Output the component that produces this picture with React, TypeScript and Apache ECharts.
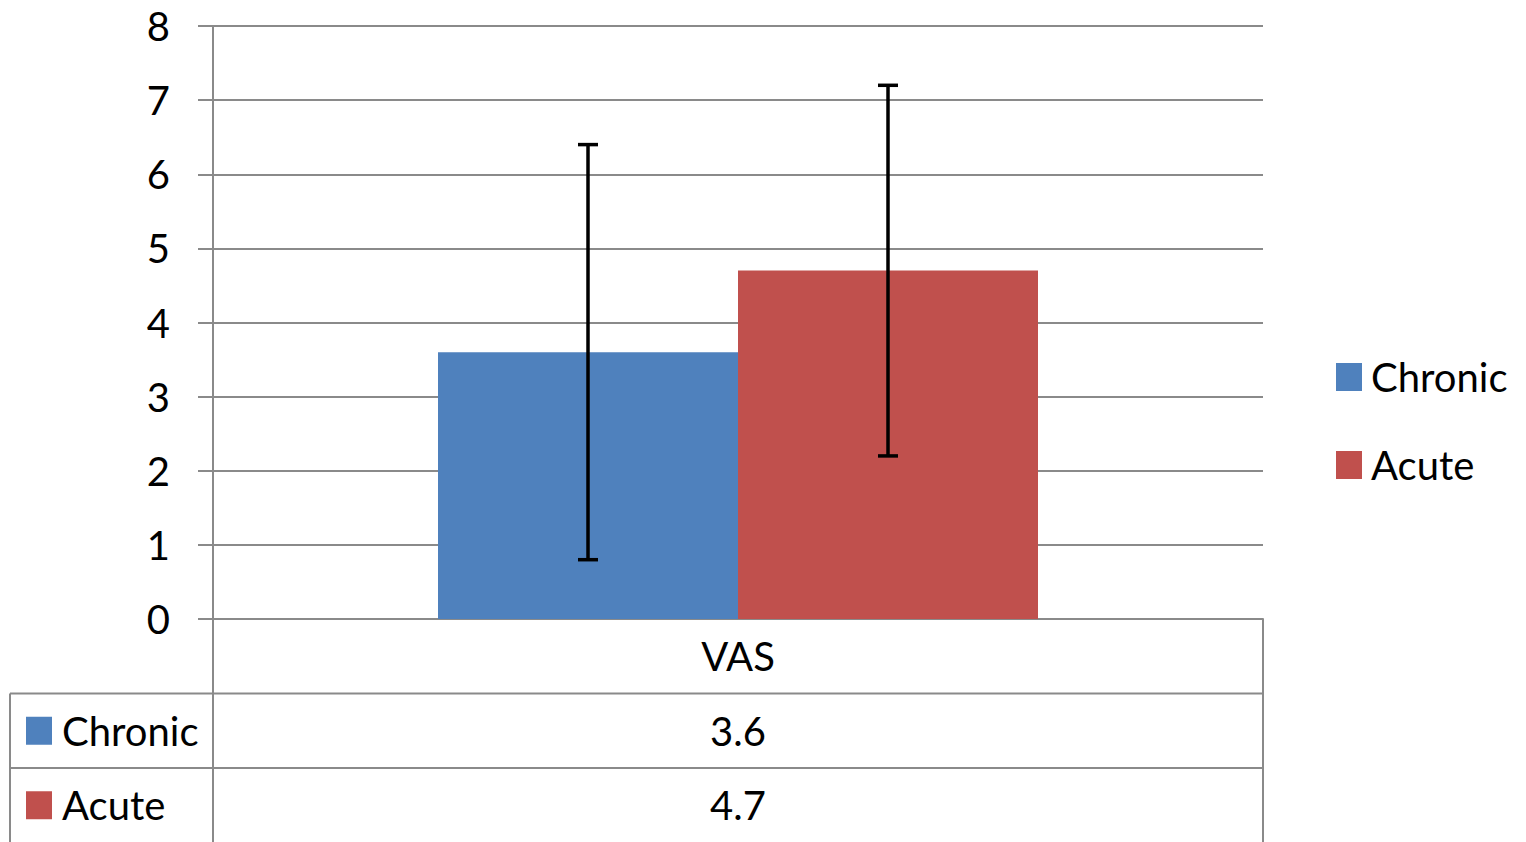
import React, { useEffect, useRef } from "react";
import * as echarts from "echarts";

const categories = ["VAS"];
const seriesNames = ["Chronic", "Acute"];
const chronicMean = [3.6];
const acuteMean = [4.7];
const chronicSD = [2.8];
const acuteSD = [2.5];
const yTicks = [0, 1, 2, 3, 4, 5, 6, 7, 8];

const COLORS = ["#4F81BD", "#C0504D"];
const GRID_COLOR = "#8a8a8a";
const FONT = "Lato";
const FS = 40;

const W = 1526;
const H = 842;
const GRID = { left: 213, right: 263, top: 26, bottom: 223 };
const BAR_W = 300;

function errorSeries(name: string, means: number[], sds: number[], offset: number) {
  return {
    type: "custom",
    name,
    silent: true,
    z: 10,
    data: categories.map((_, i) => [i, means[i] - sds[i], means[i] + sds[i]]),
    renderItem: (params: any, api: any) => {
      const x = api.value(0);
      const lo = api.coord([x, api.value(1)]);
      const hi = api.coord([x, api.value(2)]);
      const cx = lo[0] + offset;
      const cap = 10;
      const st = { stroke: "#000", lineWidth: 3.5 };
      return {
        type: "group",
        children: [
          { type: "line", shape: { x1: cx, y1: hi[1], x2: cx, y2: lo[1] }, style: st },
          { type: "line", shape: { x1: cx - cap, y1: hi[1], x2: cx + cap, y2: hi[1] }, style: st },
          { type: "line", shape: { x1: cx - cap, y1: lo[1], x2: cx + cap, y2: lo[1] }, style: st },
        ],
      };
    },
  };
}

export default function App() {
  const ref = useRef<HTMLDivElement>(null);
  useEffect(() => {
    document.body.style.margin = "0";
    const chart = echarts.init(ref.current!, null, { renderer: "svg" });

    const plotL = GRID.left;
    const plotR = W - GRID.right;
    const axisY = H - GRID.bottom;
    const rowH = 74.5;
    const r1 = axisY + rowH;
    const r2 = r1 + rowH;
    const tableLeft = 10;
    const lineStyle = { stroke: GRID_COLOR, lineWidth: 2 };
    const centerX = (plotL + plotR) / 2;
    const means = [chronicMean, acuteMean];

    const graphics: any[] = [
      { type: "line", shape: { x1: plotL, y1: axisY, x2: plotL, y2: H }, style: lineStyle },
      { type: "line", shape: { x1: plotR, y1: axisY, x2: plotR, y2: H }, style: lineStyle },
      { type: "line", shape: { x1: tableLeft, y1: r1, x2: plotR, y2: r1 }, style: lineStyle },
      { type: "line", shape: { x1: tableLeft, y1: r2, x2: plotR, y2: r2 }, style: lineStyle },
      { type: "line", shape: { x1: tableLeft, y1: r1, x2: tableLeft, y2: H }, style: lineStyle },
      {
        type: "text",
        x: centerX,
        y: axisY + rowH / 2,
        style: { text: categories[0], font: `${FS}px ${FONT}`, fill: "#000", textAlign: "center", textVerticalAlign: "middle" },
      },
    ];
    seriesNames.forEach((n, k) => {
      const top = r1 + k * rowH;
      graphics.push({ type: "rect", shape: { x: 26, y: top + rowH / 2 - 14, width: 26, height: 28 }, style: { fill: COLORS[k] } });
      graphics.push({
        type: "text",
        x: 62,
        y: top + rowH / 2,
        style: { text: n, font: `${FS}px ${FONT}`, fill: "#000", textAlign: "left", textVerticalAlign: "middle" },
      });
      graphics.push({
        type: "text",
        x: centerX,
        y: top + rowH / 2,
        style: { text: String(means[k][0]), font: `${FS}px ${FONT}`, fill: "#000", textAlign: "center", textVerticalAlign: "middle" },
      });
    });

    chart.setOption({
      animation: false,
      grid: { ...GRID, containLabel: false },
      legend: {
        data: seriesNames,
        orient: "vertical",
        left: 1331,
        top: 352,
        icon: "rect",
        itemWidth: 26,
        itemHeight: 28,
        itemGap: 48,
        textStyle: { fontFamily: FONT, fontSize: FS, color: "#000", padding: [0, 0, 0, 4] },
        selectedMode: false,
      },
      xAxis: {
        type: "category",
        data: categories,
        axisLine: { show: true, lineStyle: { color: GRID_COLOR, width: 2 } },
        axisTick: { show: false },
        axisLabel: { show: false },
      },
      yAxis: {
        type: "value",
        min: 0,
        max: 8,
        interval: 1,
        axisLine: { show: true, lineStyle: { color: GRID_COLOR, width: 2 } },
        axisTick: { show: true, length: 15, lineStyle: { color: GRID_COLOR, width: 2 } },
        splitLine: { show: true, lineStyle: { color: GRID_COLOR, width: 2 } },
        axisLabel: {
          margin: 43,
          fontFamily: FONT,
          fontSize: FS,
          color: "#000",
          formatter: (v: number) => (yTicks.includes(v) ? String(v) : ""),
        },
      },
      series: [
        { type: "bar", name: seriesNames[0], data: chronicMean, barWidth: BAR_W, barGap: "0%", itemStyle: { color: COLORS[0] } },
        { type: "bar", name: seriesNames[1], data: acuteMean, barWidth: BAR_W, barGap: "0%", itemStyle: { color: COLORS[1] } },
        errorSeries("Chronic SD", chronicMean, chronicSD, -BAR_W / 2),
        errorSeries("Acute SD", acuteMean, acuteSD, BAR_W / 2),
      ],
      graphic: graphics,
    });
    return () => chart.dispose();
  }, []);
  return <div ref={ref} style={{ width: W, height: H }} />;
}
